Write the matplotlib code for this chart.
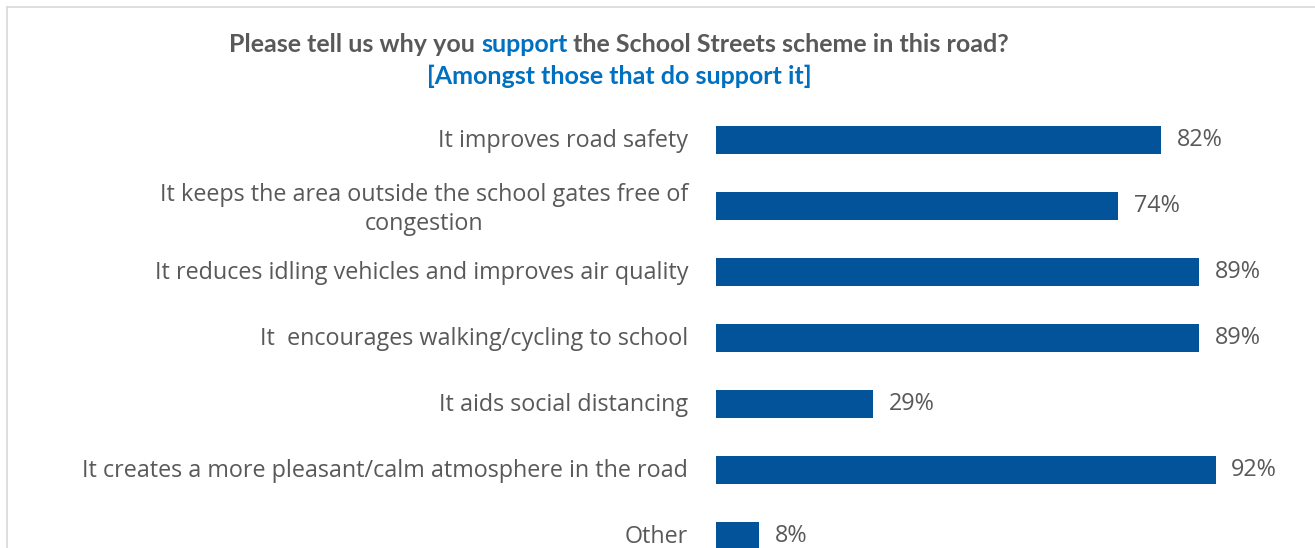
import matplotlib
matplotlib.use("Agg")
import matplotlib.pyplot as plt
import matplotlib.transforms as mtrans
from matplotlib.lines import Line2D

# data
labels = [
    "It improves road safety",
    "It keeps the area outside the school gates free of\ncongestion",
    "It reduces idling vehicles and improves air quality",
    "It  encourages walking/cycling to school",
    "It aids social distancing",
    "It creates a more pleasant/calm atmosphere in the road",
    "Other",
]
values = [82, 74, 89, 89, 29, 92, 8]

bar_col = "#02539A"
txt_col = "#595959"
blue = "#0070C0"

W, H = 1315, 548
fig = plt.figure(figsize=(W / 100, H / 100), dpi=100)

# frame border (left and top only, rest is cropped)
fig.add_artist(Line2D([7 / W, 7 / W], [0, 1 - 7 / H], color="#D9D9D9", lw=1.2))
fig.add_artist(Line2D([7 / W, 1], [1 - 7 / H, 1 - 7 / H], color="#D9D9D9", lw=1.2))

# axes placed in pixel space: x 716..1259 => 0..100
top_px, bot_px = 107, 548
ax = fig.add_axes([716 / W, 1 - bot_px / H, 543 / W, (bot_px - top_px) / H])
y = list(range(len(labels)))
ax.barh(y, values, height=0.43, color=bar_col)
ax.set_xlim(0, 100)
ax.set_ylim((bot_px - 140) / 66, -0.5)
for s in ax.spines.values():
    s.set_visible(False)
ax.set_xticks([])
ax.set_yticks(y)
ax.set_yticklabels(labels, fontsize=16.8, color=txt_col, family="Open Sans",
                   multialignment="center", linespacing=1.3)
ax.tick_params(axis="y", length=0, pad=20)
up = mtrans.ScaledTranslation(0, 2 / 100, fig.dpi_scale_trans)
for lab in ax.get_yticklabels():
    lab.set_transform(lab.get_transform() + up)
for yi, v in zip(y, values):
    ax.text(v + 2.9, yi, f"{v}%", va="center", ha="left", fontsize=16.8,
            color=txt_col, family="Open Sans")

# title with mixed colours
fig.canvas.draw()
r = fig.canvas.get_renderer()
parts = [("Please tell us why you ", txt_col), ("support", blue),
         (" the School Streets scheme in this road?", txt_col)]
tkw = dict(fontsize=18, fontweight="bold", family="Lato", va="center")
texts = [fig.text(0, 1 - 45 / H, p, color=c, **tkw) for p, c in parts]
widths = [t.get_window_extent(r).width for t in texts]
x0 = 619 - sum(widths) / 2
for t, w in zip(texts, widths):
    t.set_x(x0 / W)
    x0 += w
fig.text(619 / W, 1 - 76 / H, "[Amongst those that do support it]", color=blue,
         ha="center", **tkw)

fig.savefig("out.png", dpi=100)
